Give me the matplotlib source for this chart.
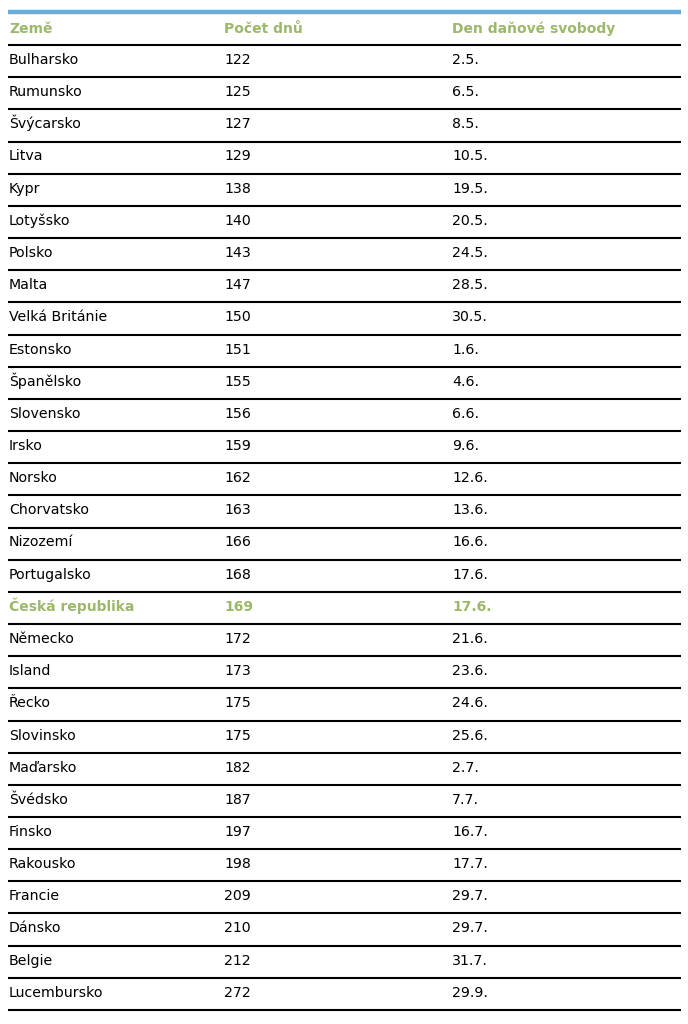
import matplotlib
matplotlib.use("Agg")
import matplotlib.pyplot as plt

countries = ["Bulharsko", "Rumunsko", "Švýcarsko", "Litva", "Kypr", "Lotyšsko", "Polsko",
             "Malta", "Velká Británie", "Estonsko", "Španělsko", "Slovensko", "Irsko",
             "Norsko", "Chorvatsko", "Nizozemí", "Portugalsko", "Česká republika",
             "Německo", "Island", "Řecko", "Slovinsko", "Maďarsko", "Švédsko", "Finsko",
             "Rakousko", "Francie", "Dánsko", "Belgie", "Lucembursko"]
days = [122, 125, 127, 129, 138, 140, 143, 147, 150, 151, 155, 156, 159, 162, 163,
        166, 168, 169, 172, 173, 175, 175, 182, 187, 197, 198, 209, 210, 212, 272]
dates = ["2.5.", "6.5.", "8.5.", "10.5.", "19.5.", "20.5.", "24.5.", "28.5.", "30.5.",
         "1.6.", "4.6.", "6.6.", "9.6.", "12.6.", "13.6.", "16.6.", "17.6.", "17.6.",
         "21.6.", "23.6.", "24.6.", "25.6.", "2.7.", "7.7.", "16.7.", "17.7.", "29.7.",
         "29.7.", "31.7.", "29.9."]
headers = ["Země", "Počet dnů", "Den daňové svobody"]
highlight = "Česká republika"

W, H = 688, 1024
fig = plt.figure(figsize=(W / 100, H / 100), dpi=100)
ax = fig.add_axes([0, 0, 1, 1])
ax.set_xlim(0, W)
ax.set_ylim(H, 0)
ax.axis("off")

green = "#9cb86a"
blue = "#6aaddc"
col_x = [9, 224, 452]
x0, x1 = 8, 681
top = 45.0
step = (1010.0 - 45.0) / len(countries)
fs = 10.2

ax.plot([x0, x1], [11.5, 11.5], color=blue, lw=3.2, solid_capstyle="butt")
for j, h in enumerate(headers):
    ax.text(col_x[j], 33, h, color=green, fontsize=fs - 0.2, fontweight="bold",
            va="baseline", ha="left", family="DejaVu Sans")

for i in range(len(countries) + 1):
    y = top + i * step
    ax.plot([x0, x1], [y, y], color="black", lw=1.5, solid_capstyle="butt")

for i, (c, d, dt) in enumerate(zip(countries, days, dates)):
    y = top + i * step + 19
    hl = c == highlight
    kw = dict(color=green if hl else "black", fontweight="bold" if hl else "normal",
              fontsize=fs - (0.2 if hl else 0), va="baseline", ha="left", family="DejaVu Sans")
    ax.text(col_x[0], y, c, **kw)
    ax.text(col_x[1], y, str(d), **kw)
    ax.text(col_x[2], y, dt, **kw)

fig.savefig("out.png", dpi=100)
